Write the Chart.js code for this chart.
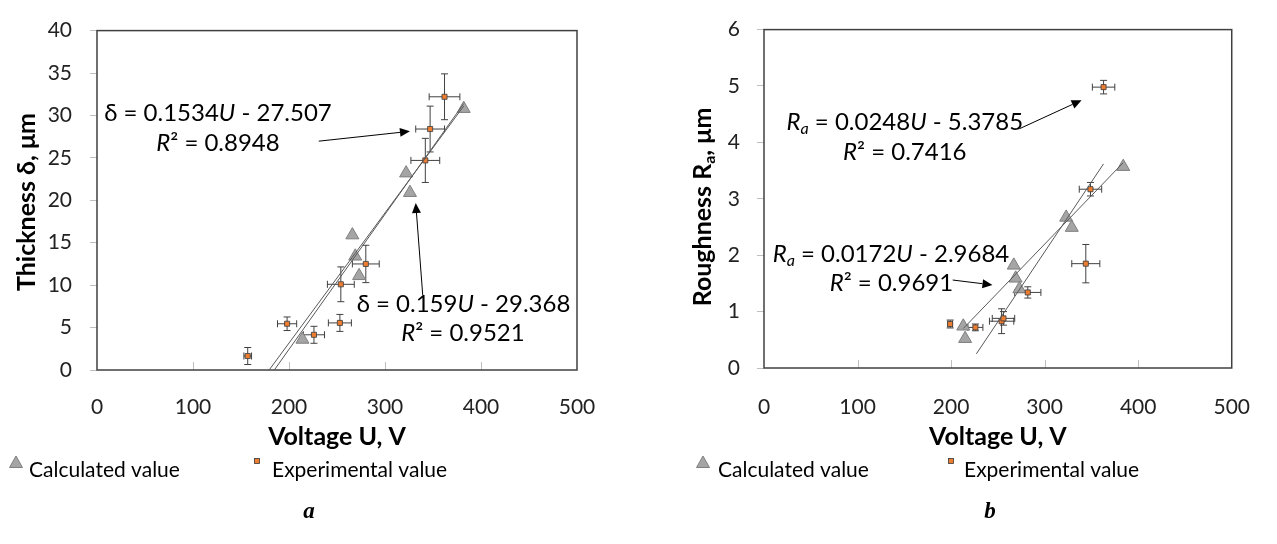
<!DOCTYPE html>
<html>
<head>
<meta charset="utf-8">
<script src="https://cdn.jsdelivr.net/npm/chart.js@4.4.0/dist/chart.umd.min.js"></script>
<style>
  body { margin: 0; background: #fff; width: 1277px; height: 544px; overflow: hidden; position: relative; }
  .box { position: absolute; top: 0; height: 544px; }
  #boxA { left: 0; width: 640px; }
  #boxB { left: 640px; width: 637px; }
</style>
</head>
<body>
<div class="box" id="boxA"><canvas id="chartA"></canvas></div>
<div class="box" id="boxB"><canvas id="chartB"></canvas></div>
<script>
// --- chart a: coating thickness vs voltage
const calcU_a = [214, 266, 269, 273, 322, 326, 382];
const calcD_a = [3.6, 15.9, 13.4, 11.1, 23.2, 20.9, 30.8];
const expU_a = [157, 198, 226, 253, 254, 280, 342, 347, 362];
const expD_a = [1.65, 5.45, 4.15, 5.55, 10.1, 12.5, 24.7, 28.4, 32.2];
const expErrU_a = [4, 10, 11, 12, 14, 14, 15, 15, 16];
const expErrD_a = [1.0, 0.8, 1.0, 1.0, 2.05, 2.2, 2.6, 2.7, 2.7];
const trend1U_a = [179.3, 382];   // δ = 0.1534U - 27.507
const trend1D_a = [0, 31.1];
const trend2U_a = [184.7, 382];   // δ = 0.159U - 29.368
const trend2D_a = [0, 31.4];
const yTicks_a = { min: 0, max: 40, step: 5 };

// --- chart b: roughness vs voltage
const calcU_b = [213, 215, 267, 269, 273, 323, 329, 384];
const calcR_b = [0.74, 0.52, 1.82, 1.59, 1.40, 2.67, 2.49, 3.57];
const expU_b = [199, 226, 254, 256, 282, 344, 349, 363];
const expR_b = [0.78, 0.72, 0.83, 0.88, 1.34, 1.85, 3.17, 4.98];
const expErrU_b = [2.5, 8, 13, 12, 14, 15, 12, 12];
const expErrR_b = [0.07, 0.06, 0.22, 0.12, 0.1, 0.34, 0.12, 0.12];
const trend1U_b = [227, 363];     // Ra = 0.0248U - 5.3785
const trend1R_b = [0.25, 3.62];
const trend2U_b = [213, 384];     // Ra = 0.0172U - 2.9684
const trend2R_b = [0.70, 3.64];
const yTicks_b = { min: 0, max: 6, step: 1 };

const xTicks = { min: 0, max: 500, step: 100 };
const xTitle = 'Voltage U, V';
const legendLabels = ['Calculated value', 'Experimental value'];

const FONT = 'Lato, "Open Sans", sans-serif';
const TRI_FILL = '#a5a5a5', TRI_EDGE = '#7f7f7f';
const SQ_FILL = '#ed7d31', SQ_EDGE = '#3a3a3a';

function pts(xs, ys) { return xs.map((x, i) => ({ x: x, y: ys[i] })); }

function fontFor(s, size) {
  return (s.i ? 'italic ' : '') + (s.b ? 'bold ' : '') + (s.sub ? Math.round(size * 0.65) : size) + 'px ' + FONT;
}
function drawRich(ctx, segs, cx, cy, size) {
  let w = 0;
  segs.forEach(s => { ctx.font = fontFor(s, size); w += ctx.measureText(s.t).width; });
  let x = cx - w / 2;
  ctx.textAlign = 'left';
  ctx.textBaseline = 'middle';
  segs.forEach(s => {
    ctx.font = fontFor(s, size);
    ctx.fillText(s.t, x, cy + (s.sub ? size * 0.28 : 0));
    x += ctx.measureText(s.t).width;
  });
}
function drawArrow(ctx, x1, y1, x2, y2) {
  const a = Math.atan2(y2 - y1, x2 - x1), L = 10, H = 4.5;
  ctx.strokeStyle = '#000'; ctx.fillStyle = '#000'; ctx.lineWidth = 1;
  ctx.beginPath(); ctx.moveTo(x1, y1);
  ctx.lineTo(x2 - L * Math.cos(a), y2 - L * Math.sin(a)); ctx.stroke();
  ctx.beginPath(); ctx.moveTo(x2, y2);
  ctx.lineTo(x2 - L * Math.cos(a) + H * Math.sin(a), y2 - L * Math.sin(a) - H * Math.cos(a));
  ctx.lineTo(x2 - L * Math.cos(a) - H * Math.sin(a), y2 - L * Math.sin(a) + H * Math.cos(a));
  ctx.closePath(); ctx.fill();
}

// plugin: plot box, inner x ticks, error bars, notes, legend, y title
function decor(cfg) {
  return {
    id: 'decor' + cfg.tag,
    beforeDatasetsDraw(chart) {
      const ctx = chart.ctx, a = chart.chartArea, xs = chart.scales.x, ys = chart.scales.y;
      ctx.save();
      ctx.strokeStyle = '#bfbfbf'; ctx.lineWidth = 1;
      for (let v = xTicks.min + xTicks.step; v < xTicks.max; v += xTicks.step) {
        const px = Math.round(xs.getPixelForValue(v)) + 0.5;
        ctx.beginPath(); ctx.moveTo(px, a.bottom); ctx.lineTo(px, a.bottom - 8); ctx.stroke();
      }
      ctx.strokeStyle = '#404040'; ctx.lineWidth = 1.5;
      ctx.strokeRect(a.left, a.top, a.right - a.left, a.bottom - a.top);
      // error bars
      ctx.strokeStyle = '#404040'; ctx.lineWidth = 1;
      cfg.errX.forEach((u, i) => {
        const v = cfg.errY[i];
        const cx = xs.getPixelForValue(u), cy = ys.getPixelForValue(v);
        const x1 = xs.getPixelForValue(u - cfg.eu[i]), x2 = xs.getPixelForValue(u + cfg.eu[i]);
        const y1 = ys.getPixelForValue(v - cfg.ev[i]), y2 = ys.getPixelForValue(v + cfg.ev[i]);
        ctx.beginPath();
        ctx.moveTo(x1, cy); ctx.lineTo(x2, cy);
        ctx.moveTo(x1, cy - 3.5); ctx.lineTo(x1, cy + 3.5);
        ctx.moveTo(x2, cy - 3.5); ctx.lineTo(x2, cy + 3.5);
        ctx.moveTo(cx, y1); ctx.lineTo(cx, y2);
        ctx.moveTo(cx - 3.5, y1); ctx.lineTo(cx + 3.5, y1);
        ctx.moveTo(cx - 3.5, y2); ctx.lineTo(cx + 3.5, y2);
        ctx.stroke();
      });
      ctx.restore();
    },
    afterDraw(chart) {
      const ctx = chart.ctx, xs = chart.scales.x, ys = chart.scales.y;
      ctx.save();
      ctx.fillStyle = '#000';
      cfg.notes.forEach(n => {
        drawRich(ctx, n.segs, xs.getPixelForValue(n.x), ys.getPixelForValue(n.y), 24);
      });
      cfg.arrows.forEach(r => {
        drawArrow(ctx, xs.getPixelForValue(r[0]), ys.getPixelForValue(r[1]),
                  xs.getPixelForValue(r[2]), ys.getPixelForValue(r[3]));
      });
      // y title
      ctx.save();
      ctx.fillStyle = '#000';
      ctx.translate(cfg.yTitlePos[0], cfg.yTitlePos[1]);
      ctx.rotate(-Math.PI / 2);
      drawRich(ctx, cfg.yTitle, 0, 0, 25);
      ctx.restore();
      // legend
      const L = cfg.legend;
      ctx.fillStyle = TRI_FILL; ctx.strokeStyle = TRI_EDGE; ctx.lineWidth = 1;
      ctx.beginPath();
      ctx.moveTo(L.tri[0], L.tri[1] - 7); ctx.lineTo(L.tri[0] + 6.5, L.tri[1] + 4.5); ctx.lineTo(L.tri[0] - 6.5, L.tri[1] + 4.5);
      ctx.closePath(); ctx.fill(); ctx.stroke();
      ctx.fillStyle = SQ_FILL; ctx.strokeStyle = SQ_EDGE; ctx.lineWidth = 0.8;
      ctx.fillRect(L.sq[0] - 2.5, L.sq[1] - 2.5, 5, 5); ctx.strokeRect(L.sq[0] - 2.5, L.sq[1] - 2.5, 5, 5);
      ctx.fillStyle = '#000'; ctx.font = '21px ' + FONT; ctx.textAlign = 'left'; ctx.textBaseline = 'middle';
      ctx.fillText(legendLabels[0], L.t1[0], L.t1[1]);
      ctx.fillText(legendLabels[1], L.t2[0], L.t2[1]);
      // panel letter
      ctx.font = 'italic bold 23px "Liberation Serif", serif'; ctx.textAlign = 'center';
      ctx.fillText(cfg.letter[0], cfg.letter[1], cfg.letter[2]);
      ctx.restore();
    }
  };
}

function makeChart(id, d) {
  return new Chart(document.getElementById(id), {
    type: 'scatter',
    data: {
      datasets: [
        { data: pts(d.t1x, d.t1y), showLine: true, borderColor: '#595959', borderWidth: 1, pointRadius: 0 },
        { data: pts(d.t2x, d.t2y), showLine: true, borderColor: '#595959', borderWidth: 1, pointRadius: 0 },
        { data: pts(d.ex, d.ey), pointStyle: 'rect', pointRadius: 3.6, backgroundColor: SQ_FILL, borderColor: SQ_EDGE, borderWidth: 0.8 },
        { data: pts(d.cx, d.cy), pointStyle: 'triangle', pointRadius: 7.5, backgroundColor: TRI_FILL, borderColor: TRI_EDGE, borderWidth: 1 }
      ]
    },
    options: {
      responsive: true,
      maintainAspectRatio: false,
      animation: false,
      layout: { padding: { left: 0, top: 23, right: d.padRight, bottom: 0 } },
      plugins: { legend: { display: false }, tooltip: { enabled: false } },
      scales: {
        x: {
          type: 'linear', min: xTicks.min, max: xTicks.max,
          afterFit: s => { s.height = d.xHeight; },
          ticks: { stepSize: xTicks.step, color: '#222', font: { family: FONT, size: 21 }, padding: d.xPad },
          grid: { drawOnChartArea: false, drawTicks: false, display: false },
          border: { display: false },
          title: { display: true, text: xTitle, color: '#000', font: { family: FONT, size: 25, weight: 'bold' }, padding: { top: 0, bottom: 92 } }
        },
        y: {
          type: 'linear', min: d.yt.min, max: d.yt.max,
          afterFit: s => { s.width = d.yWidth; },
          ticks: { stepSize: d.yt.step, color: '#222', font: { family: FONT, size: 21 }, padding: d.yPad },
          grid: { drawOnChartArea: false, drawTicks: true, tickLength: 7, color: '#bfbfbf' },
          border: { display: false }
        }
      }
    },
    plugins: [decor(d.decor)]
  });
}

makeChart('chartA', {
  t1x: trend1U_a, t1y: trend1D_a, t2x: trend2U_a, t2y: trend2D_a,
  ex: expU_a, ey: expD_a, cx: calcU_a, cy: calcD_a, yt: yTicks_a,
  padRight: 63, xHeight: 174, yWidth: 97, xPad: 25, yPad: 18,
  decor: {
    tag: 'A', errX: expU_a, errY: expD_a, eu: expErrU_a, ev: expErrD_a,
    notes: [
      { x: 126, y: 30.2, segs: [{ t: 'δ = 0.1534' }, { t: 'U', i: true }, { t: ' - 27.507' }] },
      { x: 126, y: 26.7, segs: [{ t: 'R', i: true }, { t: '² = 0.8948' }] },
      { x: 381.8, y: 7.7, segs: [{ t: 'δ = 0.159' }, { t: 'U', i: true }, { t: ' - 29.368' }] },
      { x: 381.2, y: 4.3, segs: [{ t: 'R', i: true }, { t: '² = 0.9521' }] }
    ],
    arrows: [[231, 26.97, 326, 28.13], [339.3, 8.84, 332, 19.68]],
    yTitle: [{ t: 'Thickness δ, μm', b: true }],
    yTitlePos: [27, 202],
    legend: { tri: [16, 463], sq: [257, 461], t1: [29, 470], t2: [272, 470] },
    letter: ['a', 309, 512]
  }
});

makeChart('chartB', {
  t1x: trend1U_b, t1y: trend1R_b, t2x: trend2U_b, t2y: trend2R_b,
  ex: expU_b, ey: expR_b, cx: calcU_b, cy: calcR_b, yt: yTicks_b,
  padRight: 22, xHeight: 176, yWidth: 124, xPad: 27, yPad: 17,
  decor: {
    tag: 'B', errX: expU_b, errY: expR_b, eu: expErrU_b, ev: expErrR_b,
    notes: [
      { x: 150.5, y: 4.365, segs: [{ t: 'R', i: true }, { t: 'a', i: true, sub: true }, { t: ' = 0.0248' }, { t: 'U', i: true }, { t: ' - 5.3785' }] },
      { x: 150.5, y: 3.826, segs: [{ t: 'R', i: true }, { t: '² = 0.7416' }] },
      { x: 135.7, y: 2.023, segs: [{ t: 'R', i: true }, { t: 'a', i: true, sub: true }, { t: ' = 0.0172' }, { t: 'U', i: true }, { t: ' - 2.9684' }] },
      { x: 136.2, y: 1.50, segs: [{ t: 'R', i: true }, { t: '² = 0.9691' }] }
    ],
    arrows: [[273.2, 4.243, 339.5, 4.748], [201.7, 1.56, 244.2, 1.473]],
    yTitle: [{ t: 'Roughness R', b: true }, { t: 'a', b: true, sub: true }, { t: ', μm', b: true }],
    yTitlePos: [63, 207],
    legend: { tri: [63, 463], sq: [311, 461], t1: [78, 470], t2: [324, 470] },
    letter: ['b', 350, 512]
  }
});
</script>
</body>
</html>
